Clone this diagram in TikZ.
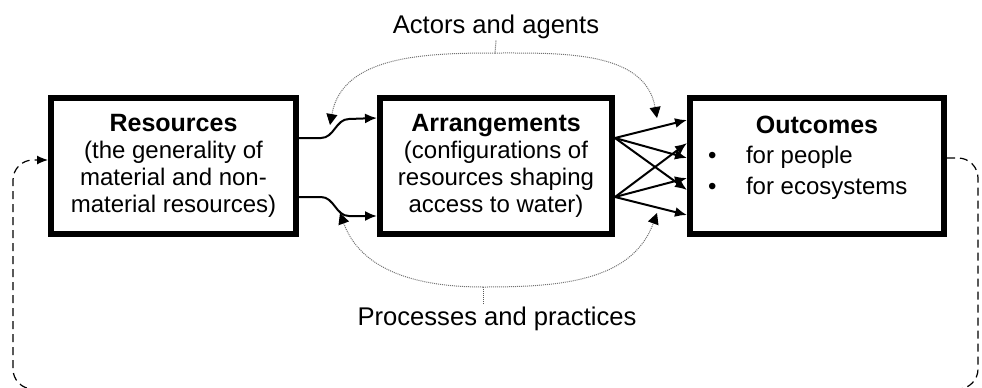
\documentclass[tikz,border=0pt]{standalone}
\usepackage{fontspec}
\setmainfont{Liberation Sans}
\usetikzlibrary{positioning}
\usetikzlibrary{arrows.meta}

\begin{document}
\begin{tikzpicture}[x = 0.5pt, y = -0.5pt]
  \tikzstyle{box}=[rectangle, draw = black, line width = 3pt, minimum height = 68pt, align = center, font = \fontsize{12}{13.5}\selectfont]
  \tikzstyle{title}=[font = \bfseries\fontsize{12.5}{13.5}\selectfont]
  \tikzstyle{item}=[font = \fontsize{12}{13.5}\selectfont, anchor = base west]
  \tikzstyle{context}=[font = \fontsize{12.8}{14}\selectfont, inner sep = 1pt]
  \tikzstyle{flow}=[-{Latex[length = 6pt, width = 5pt]}, line width = 1pt]
  \tikzstyle{influence}=[-{Triangle[length = 5.5pt, width = 5.5pt, color = black]}, black!55, line width = 0.5pt, dash pattern = on 0.5pt off 0.5pt]
  \tikzstyle{tick}=[black!65, line width = 0.5pt, dash pattern = on 0.5pt off 0.5pt]
  \tikzstyle{feedback}=[-{Latex[length = 5.5pt, width = 4.5pt]}, line width = 0.6pt, dash pattern = on 4pt off 2.5pt, rounded corners = 10pt]

  \useasboundingbox (0,0) rectangle (982,387);

  % the three boxes
  \node[box, minimum width = 122.5pt] (res) at (173.5,166)
    {{\bfseries\fontsize{12.5}{13.5}\selectfont Resources}\\(the generality of\\material and non-\\material resources)};
  \node[box, minimum width = 116pt] (arr) [right = 39pt of res]
    {{\bfseries\fontsize{12.5}{13.5}\selectfont Arrangements}\\(configurations of\\resources shaping\\access to water)};
  \node[box, minimum width = 127pt] (out) [right = 36pt of arr] {};

  \node[title, anchor = base] (outt) at (817,133) {Outcomes};
  \node[item] (people) at (701,163) {\makebox[19pt][l]{\textbullet}for people};
  \node[item] (eco) at (701,194) {\makebox[19pt][l]{\textbullet}for ecosystems};

  % labels above and below
  \node[context, anchor = base] (act) at (496,33) {Actors and agents};
  \node[context, anchor = base] (prc) at (497,325) {Processes and practices};

  % resources -> arrangements
  \coordinate (r1) at ([yshift = 14pt]res.east);
  \coordinate (r2) at ([yshift = -15.5pt]res.east);
  \coordinate (a1) at ([yshift = 24pt]arr.west);
  \coordinate (a2) at ([yshift = -25pt]arr.west);

  \draw[flow] (r1) -- ++(22,0) to[out = 0, in = 180] ++(28,-19) -- (a1);
  \draw[flow] (r2) -- ++(22,0) to[out = 0, in = 180] ++(28,19) -- (a2);

  % arrangements -> outcomes
  \coordinate (s1) at ([yshift = 14pt]arr.east);
  \coordinate (s2) at ([yshift = -15.5pt]arr.east);
  \coordinate (e1) at ([yshift = 23pt]out.west);
  \coordinate (e2) at ([yshift = 11.5pt]out.west);
  \coordinate (e3) at ([yshift = 4pt]out.west);
  \coordinate (e4) at ([yshift = -6pt]out.west);
  \coordinate (e5) at ([yshift = -12pt]out.west);
  \coordinate (e6) at ([yshift = -24.5pt]out.west);

  \path (s1) edge [flow] (e1)
        (s1) edge [flow] (e3)
        (s1) edge [flow] (e5);
  \path (s2) edge [flow] (e2)
        (s2) edge [flow] (e4)
        (s2) edge [flow] (e6);

  % actors and agents
  \coordinate (acttop) at (495,53);
  \coordinate (tipal) at (330,125);
  \coordinate (tipar) at (657,118);
  \draw[tick] (act.south) -- (acttop);
  \draw[influence] (acttop) to[out = 180, in = 80] (tipal);
  \draw[influence] (acttop) to[out = 0, in = 100] (tipar);

  % processes and practices
  \coordinate (prcbot) at (483,287);
  \coordinate (tippl) at (340,213);
  \coordinate (tippr) at (657,213);
  \draw[tick] ([xshift = -7pt]prc.north) -- (prcbot);
  \draw[influence] (prcbot) to[out = 180, in = -70] (tippl);
  \draw[influence] (prcbot) to[out = 0, in = -110] (tippr);

  % feedback loop
  \coordinate (fbin) at ([yshift = 4pt]out.east);
  \coordinate (fbend) at ([yshift = 3pt]res.west);
  \draw[feedback] (fbin) -| (978,389) -| (13,160) -- (fbend);

\end{tikzpicture}
\end{document}
